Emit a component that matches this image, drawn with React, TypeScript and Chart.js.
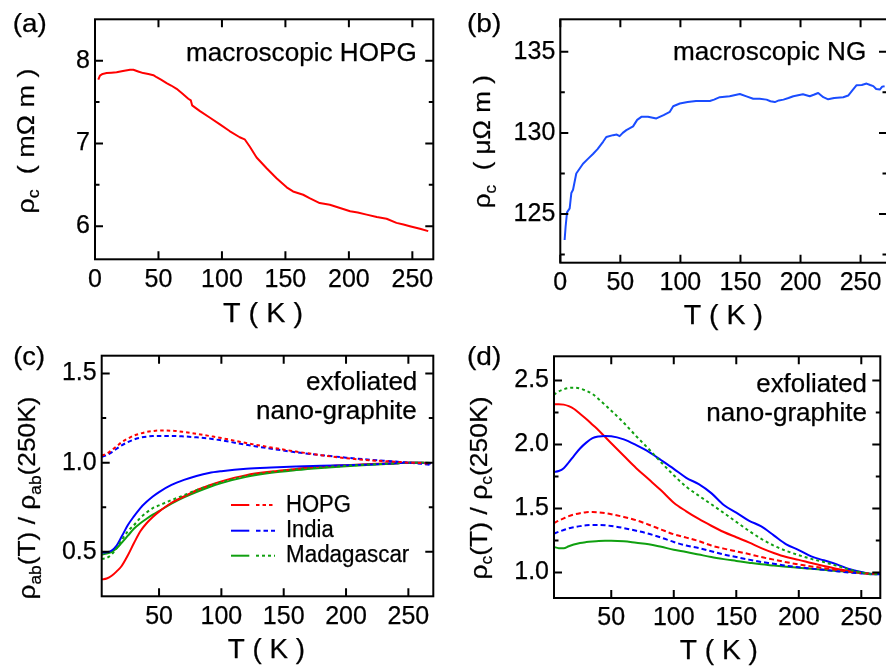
import React, { useEffect, useRef } from "react";
import { Chart, registerables } from "chart.js";

Chart.register(...registerables);

const FONT = "'Liberation Sans', Arial, Helvetica, sans-serif";

// ---------- Panel (a): macroscopic HOPG ----------
const aT = [2.6, 3.9, 6, 9.2, 13, 17, 22, 27.6, 30.2, 34, 38, 42, 46, 48.5, 52, 56.4, 60, 64.3, 69, 73.5, 75.5, 76.5, 82.7, 90.6, 98.4, 106, 114, 117.9, 122, 127.3, 135.2, 143, 151, 156, 164, 169, 177, 185, 193, 201, 207, 214, 222, 229.7, 237.5, 243, 248, 256, 262.5];
const aRho = [7.77, 7.82, 7.84, 7.85, 7.855, 7.86, 7.875, 7.89, 7.89, 7.87, 7.85, 7.84, 7.825, 7.8, 7.77, 7.73, 7.7, 7.66, 7.6, 7.54, 7.52, 7.46, 7.39, 7.31, 7.23, 7.15, 7.075, 7.05, 6.96, 6.83, 6.7, 6.58, 6.47, 6.42, 6.38, 6.34, 6.28, 6.26, 6.22, 6.18, 6.165, 6.14, 6.11, 6.09, 6.04, 6.02, 6.0, 5.97, 5.94];
const aXTicks = [0, 50, 100, 150, 200, 250];
const aYTicks = [6, 7, 8];
const aYMinor = [6.5, 7.5];

// ---------- Panel (b): macroscopic NG ----------
const bT = [3.6, 4.4, 5.6, 7.8, 9.2, 10.6, 13.3, 18.9, 23, 27.2, 31, 35.6, 38.3, 43.9, 47, 49.4, 52, 55, 60.6, 64, 67.5, 73, 80, 86, 91.2, 94, 99.5, 106, 113, 124.5, 128, 132.8, 141, 149.5, 155, 160.6, 166, 171.7, 175, 178.6, 182, 185.8, 190, 194, 202, 207.7, 211, 214.7, 219, 223, 228, 235.6, 239.7, 243, 246.7, 251, 255, 258, 260.6, 263, 266, 268, 270];
const bRho = [123.4, 124.2, 125.1, 125.35, 126.3, 126.5, 127.5, 128.1, 128.4, 128.7, 129.0, 129.45, 129.75, 129.86, 129.9, 129.8, 130.0, 130.17, 130.4, 130.8, 130.99, 131.0, 130.89, 131.1, 131.3, 131.64, 131.81, 131.9, 131.97, 131.97, 132.05, 132.2, 132.26, 132.4, 132.25, 132.1, 132.1, 132.05, 131.95, 131.9, 132.0, 132.05, 132.15, 132.26, 132.38, 132.26, 132.35, 132.46, 132.2, 132.07, 132.15, 132.2, 132.3, 132.6, 132.94, 132.95, 133.04, 132.95, 132.88, 132.7, 132.67, 132.85, 132.88];
const bXTicks = [0, 50, 100, 150, 200, 250];
const bYTicks = [125, 130, 135];
const bYMinor = [122.5, 127.5, 132.5];

// ---------- Panel (c): rho_ab(T)/rho_ab(250K) ----------
const cT = [4, 8, 12, 16, 20, 25, 30, 35, 40, 45, 50, 60, 70, 80, 90, 100, 120, 140, 160, 180, 200, 220, 240, 250, 260, 268];
const cHopgSolid = [0.345, 0.35, 0.365, 0.39, 0.42, 0.48, 0.55, 0.615, 0.66, 0.695, 0.725, 0.775, 0.81, 0.845, 0.872, 0.895, 0.93, 0.95, 0.965, 0.978, 0.986, 0.992, 0.997, 1.0, 1.0, 0.997];
const cHopgDot = [1.04, 1.05, 1.07, 1.092, 1.115, 1.135, 1.152, 1.163, 1.172, 1.177, 1.18, 1.179, 1.172, 1.162, 1.15, 1.138, 1.11, 1.085, 1.062, 1.042, 1.025, 1.013, 1.005, 1.0, 0.998, 0.994];
const cIndiaSolid = [0.495, 0.497, 0.507, 0.535, 0.585, 0.65, 0.7, 0.745, 0.78, 0.81, 0.835, 0.875, 0.903, 0.925, 0.942, 0.952, 0.966, 0.973, 0.978, 0.982, 0.986, 0.99, 0.996, 1.0, 1.0, 0.995];
const cIndiaDot = [1.033, 1.042, 1.058, 1.078, 1.097, 1.115, 1.13, 1.14, 1.146, 1.149, 1.15, 1.15, 1.147, 1.142, 1.135, 1.125, 1.1, 1.078, 1.058, 1.042, 1.028, 1.016, 1.006, 1.0, 0.994, 0.988];
const cMadaSolid = [0.485, 0.49, 0.5, 0.52, 0.55, 0.59, 0.63, 0.66, 0.685, 0.708, 0.728, 0.77, 0.805, 0.835, 0.862, 0.885, 0.92, 0.943, 0.958, 0.97, 0.98, 0.988, 0.995, 1.0, 1.0, 0.998];
const cMadaDot = [0.46, 0.465, 0.485, 0.52, 0.565, 0.615, 0.65, 0.69, 0.72, 0.745, 0.76, 0.79, 0.817, 0.846, 0.87, 0.89, 0.925, 0.947, 0.962, 0.973, 0.982, 0.99, 0.996, 1.0, 1.0, 0.997];
const cXTicks = [50, 100, 150, 200, 250];
const cYTicks = [0.5, 1.0, 1.5];
const cYMinor = [0.75, 1.25];
const legendNames = ["HOPG", "India", "Madagascar"];

// ---------- Panel (d): rho_c(T)/rho_c(250K) ----------
const dT = [4, 8, 12, 16, 20, 25, 30, 35, 40, 45, 50, 60, 70, 80, 90, 100, 110, 120, 130, 140, 150, 160, 170, 180, 190, 200, 210, 220, 230, 240, 250, 260, 265];
const dHopgSolid = [2.315, 2.315, 2.312, 2.3, 2.28, 2.24, 2.2, 2.155, 2.11, 2.06, 2.01, 1.912, 1.815, 1.728, 1.64, 1.545, 1.478, 1.418, 1.365, 1.316, 1.275, 1.235, 1.19, 1.152, 1.12, 1.098, 1.073, 1.05, 1.029, 1.012, 0.996, 0.987, 0.99];
const dHopgDot = [1.385, 1.405, 1.423, 1.44, 1.452, 1.463, 1.471, 1.473, 1.47, 1.464, 1.455, 1.434, 1.408, 1.373, 1.335, 1.298, 1.272, 1.245, 1.21, 1.186, 1.165, 1.144, 1.12, 1.1, 1.08, 1.062, 1.047, 1.034, 1.02, 1.008, 0.996, 0.99, 0.988];
const dIndiaSolid = [1.786, 1.793, 1.815, 1.86, 1.91, 1.969, 2.015, 2.05, 2.063, 2.067, 2.065, 2.04, 1.995, 1.943, 1.877, 1.81, 1.74, 1.69, 1.62, 1.527, 1.467, 1.405, 1.36, 1.29, 1.22, 1.175, 1.125, 1.095, 1.065, 1.027, 1.003, 0.985, 0.985];
const dIndiaDot = [1.303, 1.318, 1.332, 1.345, 1.353, 1.362, 1.368, 1.371, 1.371, 1.369, 1.363, 1.347, 1.326, 1.302, 1.272, 1.238, 1.21, 1.19, 1.166, 1.14, 1.12, 1.1, 1.082, 1.068, 1.052, 1.04, 1.03, 1.02, 1.01, 1.0, 0.992, 0.987, 0.987];
const dMadaSolid = [1.2, 1.19, 1.19, 1.205, 1.218, 1.23, 1.237, 1.242, 1.246, 1.248, 1.248, 1.244, 1.232, 1.22, 1.2, 1.178, 1.16, 1.14, 1.12, 1.104, 1.09, 1.076, 1.063, 1.054, 1.045, 1.036, 1.028, 1.02, 1.012, 1.003, 0.997, 0.99, 0.99];
const dMadaDot = [2.39, 2.415, 2.432, 2.442, 2.445, 2.438, 2.42, 2.395, 2.355, 2.31, 2.265, 2.17, 2.065, 1.965, 1.86, 1.76, 1.67, 1.6, 1.533, 1.465, 1.395, 1.326, 1.262, 1.21, 1.168, 1.135, 1.106, 1.081, 1.053, 1.024, 0.999, 0.985, 0.985];
const dXTicks = [50, 100, 150, 200, 250];
const dYTicks = [1.0, 1.5, 2.0, 2.5];
const dYMinor = [1.25, 1.75, 2.25];

const RED = "#ff0000";
const BLUE = "#0000ff";
const GREEN = "#10a010";
const BLUE_B = "#1a4cff";

type Seg = { t: string; sub?: boolean };
type TextItem = { segs: Seg[]; x: number; y: number; w: number; size: number; align: "left" | "right" | "center"; rot?: boolean };
type Series = { x: number[]; y: number[]; color: string; dash?: number[]; smooth?: boolean };
type Panel = {
  id: string; ox: number; oy: number; cw: number; ch: number;
  xMin: number; xMax: number; yMin: number; yMax: number;
  xTicks: number[]; yTicks: number[]; yMinor: number[]; yDec: number;
  yAxisW: number; xAxisH: number; padTop: number; padRight: number;
  series: Series[]; texts: TextItem[]; legend?: boolean;
};

const T = (t: string): Seg[] => [{ t }];
const KTITLE = "T ( K )";

const PANELS: Panel[] = [
  {
    id: "a", ox: 0, oy: 0, cw: 443, ch: 333,
    xMin: 0, xMax: 266.5, yMin: 5.6, yMax: 8.5,
    xTicks: aXTicks, yTicks: aYTicks, yMinor: aYMinor, yDec: 0,
    yAxisW: 95, xAxisH: 73.7, padTop: 19.3, padRight: 9.7,
    series: [{ x: aT, y: aRho, color: RED }],
    texts: [
      { segs: T("(a)"), x: 12.7, y: 31.7, w: 34, size: 25, align: "left" },
      { segs: T("macroscopic HOPG"), x: 416.7, y: 61, w: 230.7, size: 25, align: "right" },
      { segs: T(KTITLE), x: 263, y: 321.5, w: 80, size: 27, align: "center" },
      { segs: [{ t: "ρ" }, { t: "c", sub: true }, { t: "  ( mΩ m )" }], x: 33.5, y: 141, w: 145, size: 24, align: "center", rot: true },
    ],
  },
  {
    id: "b", ox: 443, oy: 0, cw: 446, ch: 333,
    xMin: 0, xMax: 272, yMin: 122, yMax: 137,
    xTicks: bXTicks, yTicks: bYTicks, yMinor: bYMinor, yDec: 0,
    yAxisW: 117.3, xAxisH: 70.3, padTop: 19.3, padRight: 2,
    series: [{ x: bT, y: bRho, color: BLUE_B }],
    texts: [
      { segs: T("(b)"), x: 467, y: 31.7, w: 34.3, size: 25, align: "left" },
      { segs: T("macroscopic NG"), x: 866.3, y: 60, w: 193.3, size: 25, align: "right" },
      { segs: T(KTITLE), x: 723.3, y: 324, w: 79.3, size: 27, align: "center" },
      { segs: [{ t: "ρ" }, { t: "c", sub: true }, { t: "  ( μΩ m )" }], x: 490, y: 141.7, w: 133, size: 24, align: "center", rot: true },
    ],
  },
  {
    id: "c", ox: 0, oy: 333, cw: 443, ch: 333,
    xMin: 4, xMax: 270, yMin: 0.25, yMax: 1.6,
    xTicks: cXTicks, yTicks: cYTicks, yMinor: cYMinor, yDec: 1,
    yAxisW: 101.7, xAxisH: 69.7, padTop: 22.7, padRight: 9.7,
    series: [
      { x: cT, y: cHopgDot, color: RED, dash: [3.5, 3], smooth: true },
      { x: cT, y: cIndiaDot, color: BLUE, dash: [4.5, 3], smooth: true },
      { x: cT, y: cMadaDot, color: GREEN, dash: [3, 3], smooth: true },
      { x: cT, y: cIndiaSolid, color: BLUE, smooth: true },
      { x: cT, y: cHopgSolid, color: RED, smooth: true },
      { x: cT, y: cMadaSolid, color: GREEN, smooth: true },
    ],
    texts: [
      { segs: T("(c)"), x: 13.3, y: 364.7, w: 31.7, size: 25, align: "left" },
      { segs: T("exfoliated"), x: 417.3, y: 390.3, w: 111.3, size: 25, align: "right" },
      { segs: T("nano-graphite"), x: 416.7, y: 419, w: 160.7, size: 25, align: "right" },
      { segs: T(KTITLE), x: 266.3, y: 658, w: 77.3, size: 27, align: "center" },
      { segs: [{ t: "ρ" }, { t: "ab", sub: true }, { t: "(T) / ρ" }, { t: "ab", sub: true }, { t: "(250K)" }], x: 35, y: 498, w: 203, size: 24, align: "center", rot: true },
    ],
    legend: true,
  },
  {
    id: "d", ox: 443, oy: 333, cw: 443, ch: 333,
    xMin: 4.2, xMax: 265.2, yMin: 0.8, yMax: 2.69,
    xTicks: dXTicks, yTicks: dYTicks, yMinor: dYMinor, yDec: 1,
    yAxisW: 111, xAxisH: 68, padTop: 23.3, padRight: 5.7,
    series: [
      { x: dT, y: dMadaDot, color: GREEN, dash: [3, 3], smooth: true },
      { x: dT, y: dHopgDot, color: RED, dash: [5, 3], smooth: true },
      { x: dT, y: dIndiaDot, color: BLUE, dash: [5, 3], smooth: true },
      { x: dT, y: dMadaSolid, color: GREEN, smooth: true },
      { x: dT, y: dIndiaSolid, color: BLUE, smooth: true },
      { x: dT, y: dHopgSolid, color: RED, smooth: true },
    ],
    texts: [
      { segs: T("(d)"), x: 467, y: 364.7, w: 34.3, size: 25, align: "left" },
      { segs: T("exfoliated"), x: 867, y: 392.3, w: 110.7, size: 25, align: "right" },
      { segs: T("nano-graphite"), x: 867, y: 421.3, w: 160.7, size: 25, align: "right" },
      { segs: T(KTITLE), x: 718.8, y: 659, w: 78.3, size: 27, align: "center" },
      { segs: [{ t: "ρ" }, { t: "c", sub: true }, { t: "(T) / ρ" }, { t: "c", sub: true }, { t: "(250K)" }], x: 486.5, y: 488, w: 183, size: 24, align: "center", rot: true },
    ],
  },
];

// legend geometry (page coordinates) for panel (c)
const LEG_COLORS = [RED, BLUE, GREEN];
const LEG_DASH = [[3.5, 3], [4.5, 3], [3, 3]];
const LEG_WIDTHS = [65, 47.7, 123.3];

const TEXT_STROKE = 0.25;

function drawText(ctx: CanvasRenderingContext2D, it: TextItem, ox: number, oy: number) {
  const subSize = it.size * 0.66;
  const parts = it.segs.map((s) => {
    ctx.font = `${s.sub ? subSize : it.size}px ${FONT}`;
    return { ...s, w: ctx.measureText(s.t).width };
  });
  const nat = parts.reduce((a, p) => a + p.w, 0);
  const sx = it.w ? it.w / nat : 1;
  ctx.save();
  ctx.translate(it.x - ox, it.y - oy);
  if (it.rot) ctx.rotate(-Math.PI / 2);
  ctx.scale(sx, 1);
  let cx = it.align === "left" ? 0 : it.align === "right" ? -nat : -nat / 2;
  ctx.fillStyle = "#000";
  ctx.strokeStyle = "#000";
  ctx.lineWidth = TEXT_STROKE;
  ctx.lineJoin = "round";
  ctx.textBaseline = "alphabetic";
  ctx.textAlign = "left";
  for (const p of parts) {
    ctx.font = `${p.sub ? subSize : it.size}px ${FONT}`;
    const yy = p.sub ? it.size * 0.24 : 0;
    ctx.fillText(p.t, cx, yy);
    ctx.strokeText(p.t, cx, yy);
    cx += p.w;
  }
  ctx.restore();
}

function makeChart(canvas: HTMLCanvasElement, p: Panel) {
  const deco = {
    id: "deco_" + p.id,
    afterDraw(chart: any) {
      const ctx: CanvasRenderingContext2D = chart.ctx;
      const { left, top, right, bottom } = chart.chartArea;
      const xs = chart.scales.x;
      const ys = chart.scales.y;
      ctx.save();
      ctx.strokeStyle = "#000";
      ctx.lineWidth = 2;
      ctx.strokeRect(left, top, right - left, bottom - top);
      ctx.beginPath();
      for (const v of p.xTicks) {
        const px = xs.getPixelForValue(v);
        ctx.moveTo(px, bottom); ctx.lineTo(px, bottom - 8);
        ctx.moveTo(px, top); ctx.lineTo(px, top + 8);
      }
      for (const v of p.yTicks) {
        const py = ys.getPixelForValue(v);
        ctx.moveTo(left, py); ctx.lineTo(left + 8, py);
        ctx.moveTo(right, py); ctx.lineTo(right - 8, py);
      }
      for (const v of p.yMinor) {
        const py = ys.getPixelForValue(v);
        ctx.moveTo(left, py); ctx.lineTo(left + 4.5, py);
        ctx.moveTo(right, py); ctx.lineTo(right - 4.5, py);
      }
      ctx.stroke();
      ctx.restore();

      for (const it of p.texts) drawText(ctx, it, p.ox, p.oy);

      if (p.legend) {
        const rowsY = [505, 530.7, 555.7];
        const baseY = [512.3, 537.3, 562.3];
        legendNames.forEach((name, i) => {
          ctx.save();
          ctx.strokeStyle = LEG_COLORS[i];
          ctx.lineWidth = 2;
          ctx.beginPath();
          ctx.moveTo(231 - p.ox, rowsY[i] - p.oy);
          ctx.lineTo(249.3 - p.ox, rowsY[i] - p.oy);
          ctx.stroke();
          ctx.setLineDash(LEG_DASH[i]);
          ctx.beginPath();
          ctx.moveTo(256 - p.ox, rowsY[i] - p.oy);
          ctx.lineTo(275 - p.ox, rowsY[i] - p.oy);
          ctx.stroke();
          ctx.restore();
          drawText(ctx, { segs: [{ t: name }], x: 286, y: baseY[i], w: LEG_WIDTHS[i], size: 23.5, align: "left" }, p.ox, p.oy);
        });
      }
    },
  };

  const tickFont = { family: FONT, size: 25 };
  return new Chart(canvas, {
    type: "line",
    data: {
      datasets: p.series.map((s) => ({
        data: s.x.map((x, i) => ({ x, y: s.y[i] })),
        borderColor: s.color,
        backgroundColor: s.color,
        borderWidth: 2,
        borderDash: s.dash || [],
        borderCapStyle: "butt",
        borderJoinStyle: "round",
        pointRadius: 0,
        fill: false,
        tension: 0,
        cubicInterpolationMode: s.smooth ? "monotone" : "default",
      })),
    },
    options: {
      animation: false,
      responsive: false,
      maintainAspectRatio: false,
      events: [],
      layout: { autoPadding: false, padding: { left: 0, top: p.padTop, right: p.padRight, bottom: 0 } },
      plugins: { legend: { display: false }, tooltip: { enabled: false }, title: { display: false } },
      scales: {
        x: {
          type: "linear",
          min: p.xMin,
          max: p.xMax,
          grid: { display: false, drawTicks: false },
          border: { display: false },
          afterBuildTicks: (s: any) => { s.ticks = p.xTicks.map((v) => ({ value: v })); },
          afterFit: (s: any) => { s.height = p.xAxisH; s.paddingLeft = 0; s.paddingRight = 0; s.paddingTop = 0; s.paddingBottom = 0; },
          ticks: { font: tickFont, color: "#000", textStrokeColor: "#000", textStrokeWidth: TEXT_STROKE, padding: 5.5, maxRotation: 0, autoSkip: false, callback: (v: any) => String(v) },
        },
        y: {
          type: "linear",
          min: p.yMin,
          max: p.yMax,
          grid: { display: false, drawTicks: false },
          border: { display: false },
          afterBuildTicks: (s: any) => { s.ticks = p.yTicks.map((v) => ({ value: v })); },
          afterFit: (s: any) => { s.width = p.yAxisW; s.paddingLeft = 0; s.paddingRight = 0; s.paddingTop = 0; s.paddingBottom = 0; },
          ticks: { font: tickFont, color: "#000", textStrokeColor: "#000", textStrokeWidth: TEXT_STROKE, padding: 5, autoSkip: false, callback: (v: any) => Number(v).toFixed(p.yDec) },
        },
      },
    } as any,
    plugins: [deco as any],
  });
}

export default function App() {
  const refs = useRef<(HTMLCanvasElement | null)[]>([]);
  useEffect(() => {
    const charts = PANELS.map((p, i) => makeChart(refs.current[i] as HTMLCanvasElement, p));
    return () => charts.forEach((c) => c.destroy());
  }, []);
  return (
    <div style={{ position: "fixed", left: 0, top: 0, width: 886, height: 666, background: "#fff", overflow: "hidden" }}>
      {PANELS.map((p, i) => (
        <canvas
          key={p.id}
          ref={(el) => { refs.current[i] = el; }}
          width={p.cw}
          height={p.ch}
          style={{ position: "absolute", left: p.ox, top: p.oy, width: p.cw, height: p.ch }}
        />
      ))}
    </div>
  );
}
